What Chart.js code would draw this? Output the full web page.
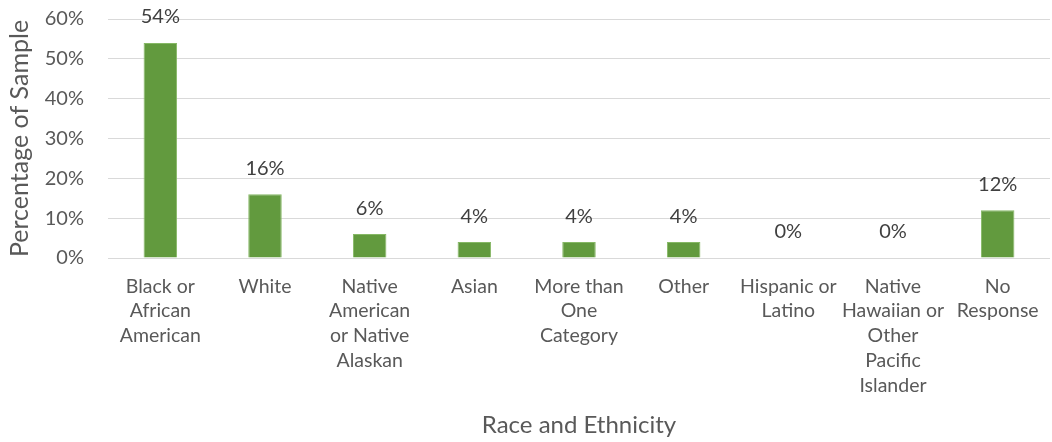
<!DOCTYPE html>
<html>
<head>
<meta charset="utf-8">
<script src="https://cdn.jsdelivr.net/npm/chart.js@4.4.0/dist/chart.umd.min.js"></script>
<style>
html,body{margin:0;padding:0;background:#fff;}
#wrap{width:1052px;height:442px;position:relative;}
</style>
</head>
<body>
<div id="wrap"><canvas id="c" width="1052" height="442"></canvas></div>
<script>
const categories = [
  ["Black or", "African", "American"],
  ["White"],
  ["Native", "American", "or Native", "Alaskan"],
  ["Asian"],
  ["More than", "One", "Category"],
  ["Other"],
  ["Hispanic or", "Latino"],
  ["Native", "Hawaiian or", "Other", "Pacific", "Islander"],
  ["No", "Response"]
];
const values = [54, 16, 6, 4, 4, 4, 0, 0, 12];
const yTicks = [0, 10, 20, 30, 40, 50, 60];

const FONT = "Lato, 'Open Sans', sans-serif";

const dataLabels = {
  id: 'dataLabels',
  afterDatasetsDraw(chart) {
    const ctx = chart.ctx;
    const meta = chart.getDatasetMeta(0);
    ctx.save();
    ctx.font = "20px " + FONT;
    ctx.fillStyle = "#404040";
    ctx.textAlign = "center";
    ctx.textBaseline = "middle";
    meta.data.forEach((bar, i) => {
      ctx.fillText(values[i] + "%", bar.x, bar.y - 26);
    });
    ctx.restore();
  }
};

new Chart(document.getElementById('c'), {
  type: 'bar',
  data: {
    labels: categories,
    datasets: [{
      data: values,
      backgroundColor: '#629a3e',
      borderColor: '#86b865',
      borderWidth: 1,
      barPercentage: 0.64,
      categoryPercentage: 0.5
    }]
  },
  options: {
    responsive: false,
    animation: false,
    devicePixelRatio: 1,
    layout: { padding: { top: 19, right: 2, left: 0, bottom: 0 } },
    plugins: { legend: { display: false }, tooltip: { enabled: false } },
    scales: {
      x: {
        grid: { display: false },
        border: { display: false },
        ticks: {
          color: '#595959',
          font: { family: FONT, size: 19.5, lineHeight: 1.27 },
          maxRotation: 0, minRotation: 0, autoSkip: false,
          padding: 8
        },
        title: {
          display: true,
          text: 'Race and Ethnicity',
          color: '#595959',
          font: { family: FONT, size: 24 },
          padding: { top: 0, bottom: 2 }
        },
        afterFit(scale) { scale.height = 184; }
      },
      y: {
        min: 0, max: 60,
        afterBuildTicks(scale) { scale.ticks = yTicks.map(v => ({ value: v })); },
        grid: { color: '#d9d9d9', lineWidth: 1, drawTicks: false },
        border: { display: false },
        ticks: {
          color: '#595959',
          font: { family: FONT, size: 20 },
          padding: 24,
          callback: v => v + '%'
        },
        title: {
          display: true,
          text: 'Percentage of Sample',
          color: '#595959',
          font: { family: FONT, size: 25 },
          padding: { top: 5, bottom: 0 }
        },
        afterFit(scale) {
          scale.width = 108;
          scale.paddingTop = 0;
          scale.paddingBottom = 0;
        }
      }
    }
  },
  plugins: [dataLabels]
});
</script>
</body>
</html>
